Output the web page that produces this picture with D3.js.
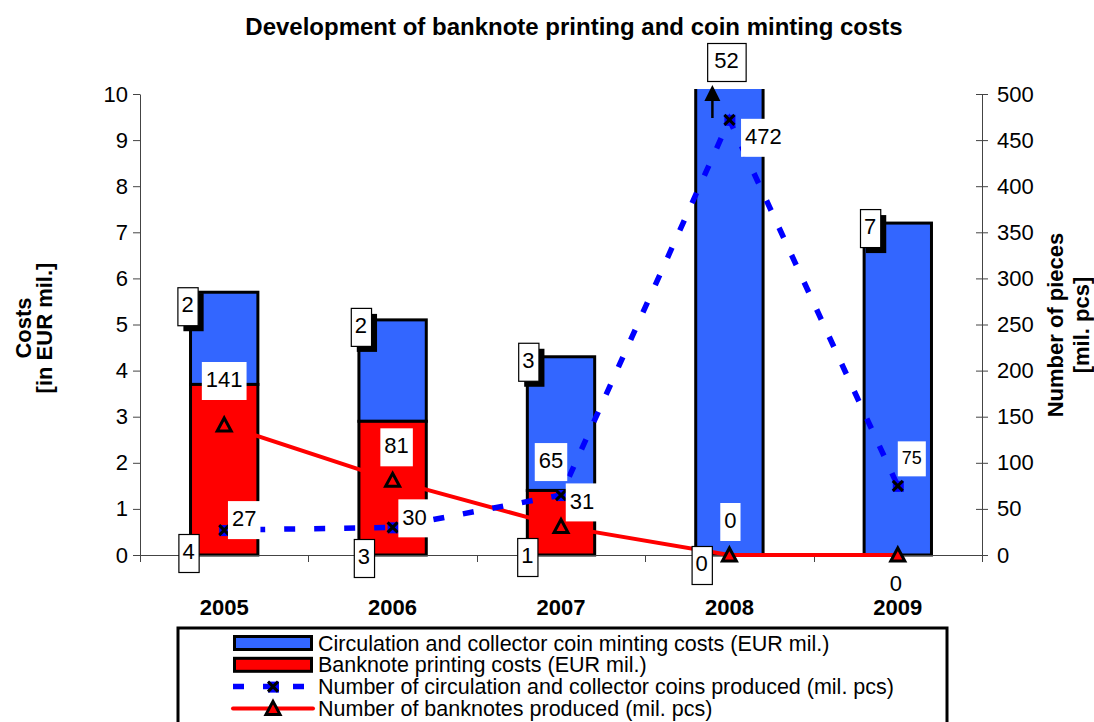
<!DOCTYPE html>
<html><head><meta charset="utf-8">
<script src="https://cdn.jsdelivr.net/npm/d3@7"></script>
<style>
body{margin:0;background:#fff}
svg{display:block}
text{font-family:"Liberation Sans",Arial,sans-serif}
</style>
</head><body>
<svg id="chart" width="1094" height="722"></svg>
<script>
// ---------------- data ----------------
const years = ["2005", "2006", "2007", "2008", "2009"];
const coinCosts = [2.0, 2.2, 2.9, 52, 7.2];          // EUR mil.
const banknoteCosts = [3.7, 2.9, 1.4, 0, null];      // EUR mil.
const coinsProduced = [27, 30, 65, 472, 75];         // mil. pcs
const banknotesProduced = [141, 81, 31, 0, 0];       // mil. pcs
const leftTicks = [0, 1, 2, 3, 4, 5, 6, 7, 8, 9, 10];
const rightTicks = [0, 50, 100, 150, 200, 250, 300, 350, 400, 450, 500];
const titleText = "Development of banknote printing and coin minting costs";
const leftTitle = ["Costs", "[in EUR mil.]"];
const rightTitle = ["Number of pieces", "[mil. pcs]"];
const legendLabels = [
  "Circulation and collector coin minting costs (EUR mil.)",
  "Banknote printing costs (EUR mil.)",
  "Number of circulation and collector coins produced (mil. pcs)",
  "Number of banknotes produced (mil. pcs)"
];

// ---------------- layout (label offsets, not data) ----------------
const coinLabelOff = [[20, -10], [22, -9], [-10, -33], [34, 18], [14, -27]];
const bankLabelOff = [[0, -44], [4, -33], [21, -24], [1, -33], [-2, 30]];
const coinCostOff = [[-3, -5], [2, -12], [1, -14], null, [6, -14]];
const bankCostOff = [[-2, -2], [5, 3], [0, 2], [6, 10], null];

const BLUE = "#3366FF", RED = "#FF0000", LINEBLUE = "#0000FF";
const FS = 22;
const svg = d3.select("#chart");
const L = 140, R = 982, T = 94, B = 555;

const x = d3.scaleBand().domain(years).range([L, R]).padding(0);
const yL = d3.scaleLinear().domain([0, 10]).range([B, T]);
const yR = d3.scaleLinear().domain([0, 500]).range([B, T]);
const barW = x.bandwidth() * 0.4;
const cx = d => x(d) + x.bandwidth() / 2;

svg.append("defs").append("clipPath").attr("id", "plotclip")
  .append("rect").attr("x", L - 5).attr("y", T - 5).attr("width", R - L + 10).attr("height", B - T + 20);

// ---------------- bars ----------------
const rows = years.map((yr, i) => ({yr, i, b: banknoteCosts[i] || 0, c: coinCosts[i]}));
const gBars = svg.append("g").attr("clip-path", "url(#plotclip)");
gBars.selectAll("rect.coin").data(rows).join("rect").attr("class", "coin")
  .attr("x", d => cx(d.yr) - barW / 2).attr("width", barW)
  .attr("y", d => yL(d.b + d.c)).attr("height", d => yL(d.b) - yL(d.b + d.c))
  .attr("fill", BLUE).attr("stroke", "#000").attr("stroke-width", 3);
gBars.selectAll("rect.bank").data(rows.filter(d => d.b > 0)).join("rect").attr("class", "bank")
  .attr("x", d => cx(d.yr) - barW / 2).attr("width", barW)
  .attr("y", d => yL(d.b)).attr("height", d => yL(0) - yL(d.b))
  .attr("fill", RED).attr("stroke", "#000").attr("stroke-width", 3);

// ---------------- axes ----------------
const gL = svg.append("g").attr("transform", `translate(${L},0)`)
  .call(d3.axisLeft(yL).tickValues(leftTicks).tickSize(7).tickSizeOuter(0).tickPadding(5))
  .attr("font-family", "Liberation Sans, Arial, sans-serif").attr("font-size", FS);
gL.select(".domain").attr("stroke", "#444");
gL.selectAll(".tick line").attr("stroke", "#444");
gL.selectAll(".tick text").attr("fill", "#000");

const gR = svg.append("g").attr("transform", `translate(${R},0)`)
  .call(d3.axisRight(yR).tickValues(rightTicks).tickSize(6).tickSizeOuter(0).tickPadding(9))
  .attr("font-family", "Liberation Sans, Arial, sans-serif").attr("font-size", FS);
gR.select(".domain").attr("stroke", "#444");
gR.selectAll(".tick line").attr("x1", -6).attr("stroke", "#444");
gR.selectAll(".tick text").attr("fill", "#000");

// x axis
svg.append("line").attr("x1", L).attr("x2", R).attr("y1", B + 0.5).attr("y2", B + 0.5)
  .attr("stroke", "#444").attr("stroke-width", 1);
const bounds = years.map(d => x(d)).concat([R]);
svg.append("g").selectAll("line").data(bounds).join("line")
  .attr("x1", d => Math.round(d) + 0.5).attr("x2", d => Math.round(d) + 0.5)
  .attr("y1", B).attr("y2", B + 7).attr("stroke", "#444");
svg.append("g").selectAll("text").data(years).join("text")
  .attr("x", d => cx(d)).attr("y", 615).attr("text-anchor", "middle")
  .attr("font-size", FS).attr("font-weight", "bold").text(d => d);

// ---------------- lines ----------------
const lineCoin = d3.line().x((d, i) => cx(years[i])).y(d => yR(d));
const lineBank = d3.line().x((d, i) => cx(years[i])).y(d => yR(d));

svg.append("path").attr("d", lineBank(banknotesProduced))
  .attr("fill", "none").attr("stroke", RED).attr("stroke-width", 4);
svg.append("path").attr("d", lineCoin(coinsProduced))
  .attr("fill", "none").attr("stroke", LINEBLUE).attr("stroke-width", 5.5)
  .attr("stroke-dasharray", "11,19");

function coinMarker(g, px, py) {
  g.append("rect").attr("x", px - 5).attr("y", py - 5).attr("width", 11).attr("height", 11).attr("fill", LINEBLUE);
  g.append("path").attr("d", `M${px - 5},${py - 5}L${px + 5},${py + 5}M${px + 5},${py - 5}L${px - 5},${py + 5}`)
    .attr("stroke", "#000").attr("stroke-width", 3);
}
function triMarker(g, px, py) {
  g.append("path").attr("d", `M${px},${py - 7}L${px + 7},${py + 6}L${px - 7},${py + 6}Z`)
    .attr("fill", RED).attr("stroke", "#000").attr("stroke-width", 3).attr("stroke-linejoin", "miter");
}
const gMk = svg.append("g");
banknotesProduced.forEach((v, i) => triMarker(gMk, cx(years[i]), yR(v)));
coinsProduced.forEach((v, i) => coinMarker(gMk, cx(years[i]), yR(v)));

// ---------------- labels ----------------
const gLab = svg.append("g");
function measure(txt, size) {
  const t = gLab.append("text").attr("font-size", size).text(txt);
  const w = t.node().getComputedTextLength();
  t.remove();
  return w;
}
// white data label box centred at (bx,by)
function dataLabel(txt, bx, by, size, h) {
  const w = measure(txt, size) + 8;
  gLab.append("rect").attr("x", bx - w / 2).attr("y", by - h / 2).attr("width", w).attr("height", h).attr("fill", "#fff");
  gLab.append("text").attr("x", bx).attr("y", by + size * 0.28).attr("text-anchor", "middle").attr("font-size", size).text(txt);
}
// bordered box (optionally shadowed), centred on bx, top at `top`
function boxLabel(txt, bx, top, shadow) {
  const w = measure(txt, FS) + (txt.length > 1 ? 14 : 8), h = 38;
  if (shadow) gLab.append("rect").attr("x", bx - w / 2 + 6).attr("y", top + 6).attr("width", w).attr("height", h).attr("fill", "#000");
  gLab.append("rect").attr("x", bx - w / 2 + 0.5).attr("y", top + 0.5).attr("width", w).attr("height", h)
    .attr("fill", "#fff").attr("stroke", "#000").attr("stroke-width", 1.2);
  gLab.append("text").attr("x", bx).attr("y", top + 25).attr("text-anchor", "middle").attr("font-size", FS).text(txt);
}

coinsProduced.forEach((v, i) => {
  const o = coinLabelOff[i];
  dataLabel(String(v), cx(years[i]) + o[0], yR(v) + o[1], i === 4 ? 18 : FS, i === 4 ? 35 : 38);
});
banknotesProduced.forEach((v, i) => {
  const o = bankLabelOff[i];
  dataLabel(String(v), cx(years[i]) + o[0], yR(v) + o[1], FS, i === 4 ? 24 : 38);
});

const fmt = d3.format(".0f");
rows.forEach(d => {
  const left = cx(d.yr) - barW / 2;
  const o = coinCostOff[d.i];
  if (o) {
    boxLabel(fmt(d.c), left + o[0], yL(d.b + d.c) + o[1], true);
  } else {
    // value exceeds the axis: box above the plot with an arrow
    boxLabel(fmt(d.c), cx(d.yr) - 3, T - 51, false);
    const ax = cx(d.yr) - 17;
    gLab.append("line").attr("x1", ax).attr("x2", ax).attr("y1", T - 1).attr("y2", T + 24)
      .attr("stroke", "#000").attr("stroke-width", 2.5);
    gLab.append("path").attr("d", `M${ax},${T - 9}L${ax + 8},${T + 7}L${ax - 8},${T + 7}Z`).attr("fill", "#000");
  }
  const ob = bankCostOff[d.i];
  if (ob && banknoteCosts[d.i] != null) {
    boxLabel(fmt(banknoteCosts[d.i]), left + ob[0], yL(0) + ob[1] - 19, false);
  }
});

// ---------------- titles ----------------
svg.append("text").attr("x", 574).attr("y", 35).attr("text-anchor", "middle")
  .attr("font-size", 24).attr("font-weight", "bold").text(titleText);

function vTitle(lines, xs, cy) {
  lines.forEach((t, k) => {
    svg.append("text").attr("transform", `translate(${xs[k]},${cy}) rotate(-90)`)
      .attr("text-anchor", "middle").attr("font-size", FS).attr("font-weight", "bold").text(t);
  });
}
vTitle(leftTitle, [31, 52], 328);
vTitle(rightTitle, [1063, 1089], 325);

// ---------------- legend ----------------
const lg = svg.append("g");
lg.append("rect").attr("x", 178).attr("y", 628).attr("width", 769).attr("height", 130)
  .attr("fill", "#fff").attr("stroke", "#000").attr("stroke-width", 3);
const rowY = k => 643 + k * 21.8;
const sx0 = 233, sx1 = 313, smid = (sx0 + sx1) / 2;
lg.append("rect").attr("x", sx0 + 1.5).attr("y", rowY(0) - 6.5).attr("width", sx1 - sx0 - 3).attr("height", 13)
  .attr("fill", BLUE).attr("stroke", "#000").attr("stroke-width", 3);
lg.append("rect").attr("x", sx0 + 1.5).attr("y", rowY(1) - 6.5).attr("width", sx1 - sx0 - 3).attr("height", 13)
  .attr("fill", RED).attr("stroke", "#000").attr("stroke-width", 3);
lg.append("line").attr("x1", sx0).attr("x2", sx1).attr("y1", rowY(2)).attr("y2", rowY(2))
  .attr("stroke", LINEBLUE).attr("stroke-width", 5.5).attr("stroke-dasharray", "11,19");
coinMarker(lg, smid, rowY(2));
lg.append("line").attr("x1", sx0).attr("x2", sx1).attr("y1", rowY(3)).attr("y2", rowY(3))
  .attr("stroke", RED).attr("stroke-width", 4).attr("stroke-linecap", "round");
triMarker(lg, smid, rowY(3));
lg.selectAll("text.lt").data(legendLabels).join("text").attr("class", "lt")
  .attr("x", 318).attr("y", (d, k) => rowY(k) + 7.5).attr("font-size", 21.5).text(d => d);
</script>
</body></html>
